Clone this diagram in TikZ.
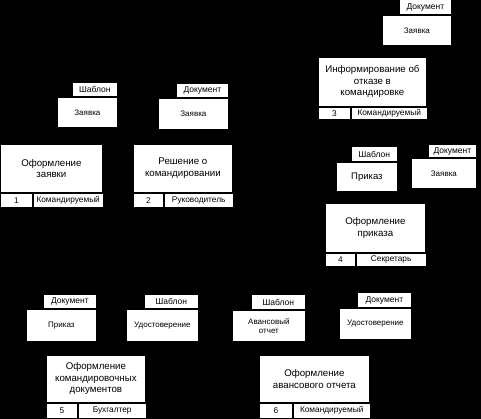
\documentclass[tikz,border=0pt]{standalone}
\usepackage{fontspec}
\setmainfont{Liberation Sans}
\usetikzlibrary{positioning}
\tikzset{
  box/.style={draw=black,fill=white,line width=0.8pt,inner sep=1pt,align=center},
  proc/.style={box,anchor=north west,font=\fontsize{9.7}{11.5}\selectfont},
  cell/.style={box,anchor=north west,minimum height=14pt,font=\fontsize{8.3}{9}\selectfont},
  doc/.style={box,anchor=north west,font=\fontsize{8}{9.5}\selectfont},
  tag/.style={box,anchor=south east,minimum height=14pt,font=\fontsize{8.5}{9}\selectfont},
}
\begin{document}
\begin{tikzpicture}[x=1pt,y=-1pt]
  % background
  \fill[black] (0,0) rectangle (481,419);
  \useasboundingbox (0,0) rectangle (481,419);
  % process boxes: title, number, performer
  \node[proc,minimum width=102pt,minimum height=48pt] (p1) at (0,144) {Оформление\\заявки};
  \node[cell,minimum width=32pt,below=0pt of p1.south west,anchor=north west] (n1) {1};
  \node[cell,minimum width=70pt,right=0pt of n1.north east,anchor=north west] (r1) {Командируемый};
  \node[proc,minimum width=99pt,minimum height=48pt] (p2) at (133,144) {Решение о\\командировании};
  \node[cell,minimum width=30pt,below=0pt of p2.south west,anchor=north west] (n2) {2};
  \node[cell,minimum width=69pt,right=0pt of n2.north east,anchor=north west] (r2) {Руководитель};
  \node[proc,minimum width=108pt,minimum height=49pt] (p3) at (318,57) {Информирование об\\отказе в\\командировке};
  \node[cell,minimum width=32pt,minimum height=12pt,below=0pt of p3.south west,anchor=north west] (n3) {3};
  \node[cell,minimum width=76pt,minimum height=12pt,right=0pt of n3.north east,anchor=north west] (r3) {Командируемый};
  \node[proc,minimum width=100pt,minimum height=49pt] (p4) at (325,203) {Оформление\\приказа};
  \node[cell,minimum width=30pt,minimum height=13pt,below=0pt of p4.south west,anchor=north west] (n4) {4};
  \node[cell,minimum width=70pt,minimum height=13pt,right=0pt of n4.north east,anchor=north west] (r4) {Секретарь};
  \node[proc,minimum width=99pt,minimum height=47pt] (p5) at (46,355) {Оформление\\командировочных\\документов};
  \node[cell,minimum width=31pt,minimum height=15pt,below=0pt of p5.south west,anchor=north west] (n5) {5};
  \node[cell,minimum width=68pt,minimum height=15pt,right=0pt of n5.north east,anchor=north west] (r5) {Бухгалтер};
  \node[proc,minimum width=110pt,minimum height=47pt] (p6) at (259,355) {Оформление\\авансового отчета};
  \node[cell,minimum width=33pt,minimum height=15pt,below=0pt of p6.south west,anchor=north west] (n6) {6};
  \node[cell,minimum width=77pt,minimum height=15pt,right=0pt of n6.north east,anchor=north west] (r6) {Командируемый};
  % documents with their type tags
  \node[doc,minimum width=60pt,minimum height=30pt] (d1) at (57,97) {Заявка};
  \node[tag,minimum width=45pt] (t1) at (d1.north east) {Шаблон};
  \node[doc,minimum width=70pt,minimum height=31pt] (d2) at (158,98) {Заявка};
  \node[tag,minimum width=52pt] (t2) at (d2.north east) {Документ};
  \node[doc,minimum width=69pt,minimum height=30pt] (d3) at (382,15) {Заявка};
  \node[tag,minimum width=52pt,minimum height=15pt] (t3) at (d3.north east) {Документ};
  \node[doc,minimum width=61pt,minimum height=29pt,font=\fontsize{9.5}{10}\selectfont] (d4) at (336,162) {Приказ};
  \node[tag,minimum width=46pt,minimum height=15pt] (t4) at (d4.north east) {Шаблон};
  \node[doc,minimum width=65pt,minimum height=30pt] (d5) at (411,158) {Заявка};
  \node[tag,minimum width=48pt,minimum height=13pt] (t5) at (d5.north east) {Документ};
  \node[doc,minimum width=70pt,minimum height=32pt] (d6) at (26,309) {Приказ};
  \node[tag,minimum width=53pt] (t6) at (d6.north east) {Документ};
  \node[doc,minimum width=72pt,minimum height=32pt] (d7) at (126,309) {Удостоверение};
  \node[tag,minimum width=54pt] (t7) at (d7.north east) {Шаблон};
  \node[doc,minimum width=73pt,minimum height=31pt] (d8) at (232,310) {Авансовый\\отчет};
  \node[tag,minimum width=54pt,minimum height=15pt] (t8) at (d8.north east) {Шаблон};
  \node[doc,minimum width=72pt,minimum height=31pt] (d9) at (339,308) {Удостоверение};
  \node[tag,minimum width=54pt,minimum height=15pt] (t9) at (d9.north east) {Документ};
\end{tikzpicture}
\end{document}
